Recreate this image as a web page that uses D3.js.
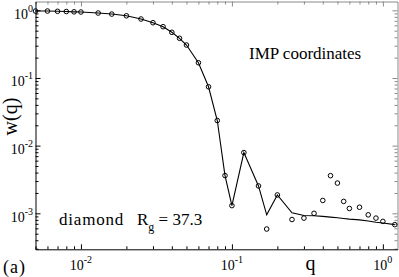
<!DOCTYPE html>
<html>
<head>
<meta charset="utf-8">
<script src="https://cdn.jsdelivr.net/npm/d3@7"></script>
<style>
    body { margin: 0; background: #fff; }
</style>
</head>
<body>
<script>
//wave vector values
var qVals = [0.005, 0.006, 0.007, 0.008, 0.009, 0.01, 0.013, 0.016, 0.02, 0.025,
    0.03, 0.035, 0.04, 0.045, 0.05, 0.06, 0.07, 0.08, 0.09, 0.1, 0.12, 0.15, 0.17,
    0.2, 0.25, 0.3, 0.35, 0.4, 0.45, 0.5, 0.55, 0.6, 0.7, 0.8, 0.9, 1.0, 1.2];

//simulation points (open circles)
var wPoints = [0.976, 0.976, 0.967, 0.96, 0.95, 0.944, 0.912, 0.88, 0.83, 0.744,
    0.656, 0.573, 0.473, 0.386, 0.307, 0.168, 0.0741, 0.0235, 0.00361, 0.0013, 0.0079, 0.00254, 0.000586,
    0.00187, 0.00081, 0.00085, 0.001, 0.00155, 0.0036, 0.0028, 0.0015, 0.00118, 0.00123, 0.00095, 0.00085, 0.00076, 0.00068];

//theory curve (solid line)
var wLine = [0.976, 0.976, 0.967, 0.96, 0.95, 0.944, 0.912, 0.88, 0.83, 0.744,
    0.656, 0.573, 0.473, 0.386, 0.307, 0.168, 0.0741, 0.0235, 0.00361, 0.0013, 0.0079, 0.00254, 0.00095,
    0.00187, 0.00102, 0.00093, 0.00092, 0.0009, 0.00088, 0.00086, 0.00084, 0.00082, 0.0008, 0.00077, 0.00074, 0.00072, 0.00068];

//decade tick labels
var xMajor = [0.01, 0.1, 1];
var xExp = ["-2", "-1", "0"];
var yMajor = [1e-3, 1e-2, 1e-1, 1];
var yExp = ["-3", "-2", "-1", "0"];

window.onload = drawChart();

function drawChart(){

    var width = 399,
        height = 277;

    var left = 35.5, right = 397.5, top = 1.5, bottom = 249.3;
    var serif = "'Liberation Serif', 'Times New Roman', Times, serif";

    var svg = d3.select("body")
        .append("svg")
        .attr("width", width)
        .attr("height", height)
        .style("font-family", serif);

    var x = d3.scaleLog()
        .domain([0.005, 1.25])
        .range([left, right]);

    var y = d3.scaleLog()
        .domain([2.94e-4, 1.35])
        .range([bottom, top]);

    function isMajor(v){
        var l = Math.log10(v);
        return Math.abs(l - Math.round(l)) < 1e-6;
    }

    //mirror frame (gray) on top and right
    var gTop = svg.append("g")
        .attr("transform", "translate(0," + top + ")")
        .call(d3.axisTop(x).tickValues(x.ticks()).tickSize(0).tickFormat(""));
    var gRight = svg.append("g")
        .attr("transform", "translate(" + right + ",0)")
        .call(d3.axisRight(y).tickValues(y.ticks()).tickSize(0).tickFormat(""));
    [gTop, gRight].forEach(function(g){
        g.select(".domain").attr("stroke", "#8a8a8a").attr("stroke-width", 1);
        g.selectAll(".tick line").remove();
    });
    //top ticks pointing down
    gTop.selectAll(".tick").append("line")
        .attr("y2", function(d){ return isMajor(d) ? 5 : 3; })
        .attr("stroke", "#8a8a8a");
    //right ticks pointing left
    gRight.selectAll(".tick").append("line")
        .attr("x2", function(d){ return isMajor(d) ? -5 : -3; })
        .attr("stroke", "#8a8a8a");

    //bottom axis
    var gBottom = svg.append("g")
        .attr("transform", "translate(0," + bottom + ")")
        .call(d3.axisBottom(x).tickValues(x.ticks()).tickSize(0).tickFormat(""));
    gBottom.select(".domain").attr("stroke", "#000");
    gBottom.selectAll(".tick line").remove();
    gBottom.selectAll(".tick").append("line")
        .attr("y2", function(d){ return isMajor(d) ? -5 : -3; })
        .attr("stroke", "#000");

    //left axis
    var gLeft = svg.append("g")
        .attr("transform", "translate(" + left + ",0)")
        .call(d3.axisLeft(y).tickValues(y.ticks()).tickSize(0).tickFormat(""));
    gLeft.select(".domain").attr("stroke", "#000");
    gLeft.selectAll(".tick line").remove();
    gLeft.selectAll(".tick").append("line")
        .attr("x2", function(d){ return isMajor(d) ? 5 : 3; })
        .attr("stroke", "#000");

    //x tick labels 10^n
    var xl = svg.selectAll(".xlab")
        .data(xMajor)
        .enter()
        .append("text")
        .attr("class", "xlab")
        .attr("x", function(d){ return x(d); })
        .attr("y", 270)
        .attr("text-anchor", "middle")
        .style("font-family", serif)
        .style("font-size", "14px");
    xl.append("tspan").text("10");
    xl.append("tspan")
        .attr("dy", -7)
        .style("font-size", "10px")
        .text(function(d, i){ return xExp[i]; });

    //y tick labels 10^n
    var yl = svg.selectAll(".ylab")
        .data(yMajor)
        .enter()
        .append("text")
        .attr("class", "ylab")
        .attr("x", 33)
        .attr("y", function(d){ return y(d) + 8.5; })
        .attr("text-anchor", "end")
        .style("font-family", serif)
        .style("font-size", "14px");
    yl.append("tspan").text("10");
    yl.append("tspan")
        .attr("dy", -7)
        .style("font-size", "10px")
        .text(function(d, i){ return yExp[i]; });

    //theory line
    var line = d3.line()
        .x(function(d, i){ return x(qVals[i]); })
        .y(function(d){ return y(d); });

    svg.append("path")
        .datum(wLine)
        .attr("d", line)
        .attr("fill", "none")
        .attr("stroke", "#000")
        .attr("stroke-width", 1.1);

    //data circles
    svg.selectAll(".pt")
        .data(wPoints)
        .enter()
        .append("circle")
        .attr("class", "pt")
        .attr("cx", function(d, i){ return x(qVals[i]); })
        .attr("cy", function(d){ return y(d); })
        .attr("r", 2.3)
        .attr("fill", "none")
        .attr("stroke", "#000")
        .attr("stroke-width", 1);

    //axis titles
    svg.append("text")
        .attr("transform", "translate(17,116.5) rotate(-90)")
        .attr("text-anchor", "middle")
        .style("font-family", serif)
        .style("font-size", "20px")
        .text("w(q)");

    svg.append("text")
        .attr("x", 310.5)
        .attr("y", 270)
        .attr("text-anchor", "middle")
        .style("font-family", serif)
        .style("font-size", "20px")
        .text("q");

    svg.append("text")
        .attr("x", 3)
        .attr("y", 273)
        .style("font-family", serif)
        .style("font-size", "18px")
        .style("letter-spacing", "1px")
        .text("(a)");

    //annotations
    svg.append("text")
        .attr("x", 249)
        .attr("y", 59)
        .style("font-family", serif)
        .style("font-size", "17px")
        .text("IMP coordinates");

    svg.append("text")
        .attr("x", 59)
        .attr("y", 225)
        .style("font-family", serif)
        .style("font-size", "17px")
        .style("letter-spacing", "0.8px")
        .text("diamond");

    var rg = svg.append("text")
        .attr("x", 137)
        .attr("y", 225)
        .style("font-family", serif)
        .style("font-size", "17px");
    rg.append("tspan").text("R");
    rg.append("tspan")
        .attr("dy", 6)
        .style("font-size", "12px")
        .text("g");
    rg.append("tspan")
        .attr("dy", -6)
        .text(" = 37.3");
}
</script>
</body>
</html>
